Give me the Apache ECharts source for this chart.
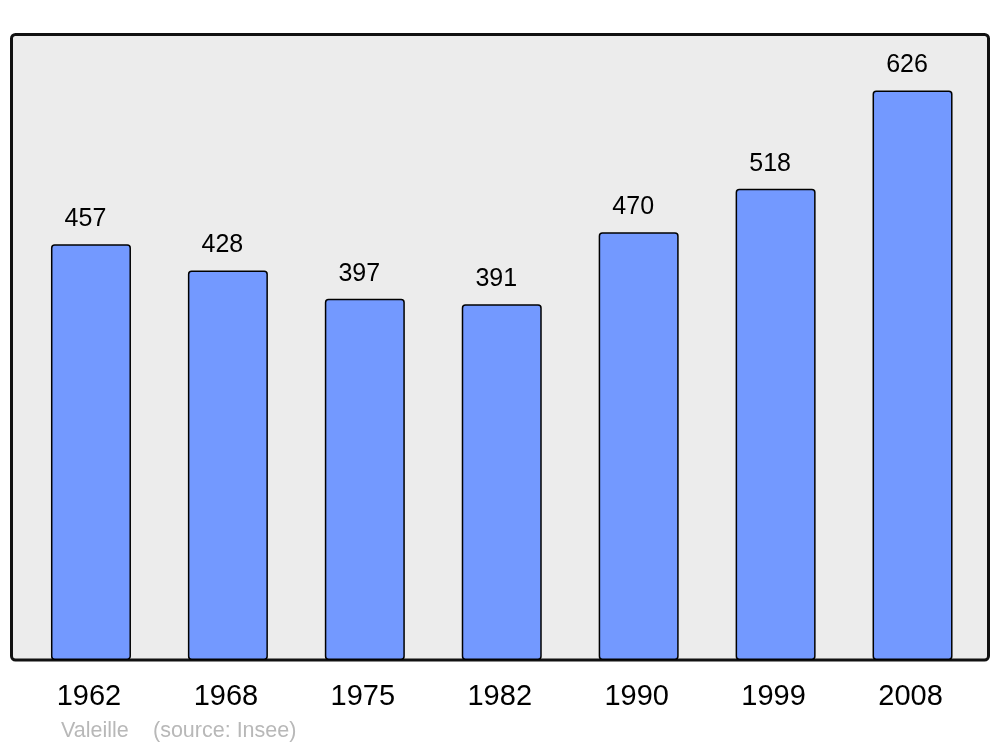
<!DOCTYPE html>
<html>
<head>
<meta charset="utf-8">
<script src="https://cdn.jsdelivr.net/npm/echarts@6/dist/echarts.min.js"></script>
<style>
html,body{margin:0;padding:0;background:#fff;}
#c{width:1000px;height:747px;}
</style>
</head>
<body>
<div id="c"></div>
<script>
const years = ['1962', '1968', '1975', '1982', '1990', '1999', '2008'];
const population = [457, 428, 397, 391, 470, 518, 626];
const placeName = 'Valeille';
const sourceText = '(source: Insee)';

const chart = echarts.init(document.getElementById('c'), null, {renderer: 'canvas'});
const FONT = '"Liberation Sans", Arial, sans-serif';
chart.setOption({
  animation: false,
  backgroundColor: '#ffffff',
  textStyle: {fontFamily: FONT},
  graphic: [{
    type: 'rect',
    z: -10,
    silent: true,
    shape: {x: 11.5, y: 34.5, width: 977, height: 625.5, r: 4},
    style: {fill: '#ececec', stroke: '#111111', lineWidth: 3}
  }],
  title: [
    {text: placeName, left: 61, top: 720, padding: 0, textStyle: {fontFamily: FONT, fontSize: 21.5, fontWeight: 'normal', color: '#b8b8b8'}},
    {text: sourceText, left: 153, top: 720, padding: 0, textStyle: {fontFamily: FONT, fontSize: 21.5, fontWeight: 'normal', color: '#b8b8b8'}}
  ],
  grid: {left: 22.5, right: 19, top: 34, bottom: 87, containLabel: false},
  xAxis: {
    type: 'category',
    data: years,
    axisLine: {show: false},
    axisTick: {show: false},
    splitLine: {show: false},
    axisLabel: {fontFamily: FONT, fontSize: 29, color: '#000', margin: 22, padding: [0, 4, 0, 0]}
  },
  yAxis: {
    type: 'value',
    min: 0,
    max: 688,
    show: false,
    splitLine: {show: false}
  },
  series: [{
    type: 'bar',
    data: population,
    barWidth: 80,
    itemStyle: {color: '#7399ff', borderColor: '#000', borderWidth: 1.5, borderRadius: 3},
    label: {
      show: true,
      position: 'top',
      distance: 12.5,
      offset: [-5.5, 0],
      fontFamily: FONT,
      fontSize: 25,
      color: '#000'
    }
  }]
});
</script>
</body>
</html>
